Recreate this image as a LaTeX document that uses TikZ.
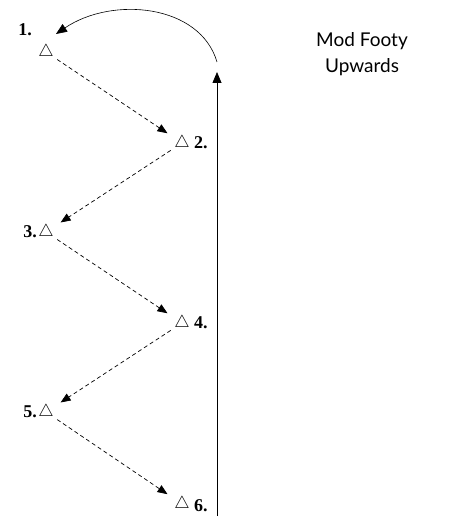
\documentclass[tikz,border=0pt]{standalone}
\usepackage{fontspec}
\setmainfont{Liberation Serif}
\newfontfamily\titelfont{Lato}
\usetikzlibrary{arrows.meta, positioning}

\tikzset{
  spieler/.style={inner sep=0pt, minimum size=12pt, font=\fontsize{17}{17}\selectfont},
  nummer/.style={font=\fontsize{18}{18}\selectfont\bfseries, inner sep=0pt},
  lauf/.style={-{Triangle[length=10pt,width=8pt]}, dash pattern=on 4pt off 3pt, line width=0.7pt,
               shorten <=4pt, shorten >=8pt}
}

\begin{document}
\begin{tikzpicture}[x=1pt, y=-1pt]
      \useasboundingbox (0,0) rectangle (456,518);

      % Spieler
      \node[spieler] (s1) at (46,52)  {$\triangle$};
      \node[spieler] (s2) at (182,143) {$\triangle$};
      \node[spieler] (s3) at (46,232) {$\triangle$};
      \node[spieler] (s4) at (182,323) {$\triangle$};
      \node[spieler] (s5) at (46,412) {$\triangle$};
      \node[spieler] (s6) at (182,504) {$\triangle$};

      % Nummern
      \node[nummer] (n1) at (25,30)  {1.};
      \node[nummer, right=4pt of s2] (n2) {2.};
      \node[nummer, left=1pt of s3]  (n3) {3.};
      \node[nummer, right=4pt of s4] (n4) {4.};
      \node[nummer, left=1pt of s5]  (n5) {5.};
      \node[nummer, right=4pt of s6, yshift=-2pt] (n6) {6.};

      % Laufwege
      \draw[lauf] (s1) -- (s2);
      \draw[lauf] (s2) -- (s3);
      \draw[lauf] (s3) -- (s4);
      \draw[lauf] (s4) -- (s5);
      \draw[lauf] (s5) -- (s6);

      % Ball nach oben und zurueck
      \coordinate (unten) at (217,516);
      \coordinate (oben) at (217,72);
      \coordinate (bogenstart) at (217,62);
      \coordinate (bogenende) at (56,34);
      \draw[-{Triangle[length=11pt,width=9pt]}, line width=0.8pt] (unten) -- (oben);
      \draw[-{Triangle[length=11pt,width=9pt]}, line width=0.6pt]
        (bogenstart) .. controls (200,4) and (112,-4) .. (bogenende);

      % Titel
      \node[font=\titelfont\fontsize{19}{26}\selectfont, align=center] (titel) at (362,54)
        {Mod Footy\\Upwards};
\end{tikzpicture}
\end{document}
